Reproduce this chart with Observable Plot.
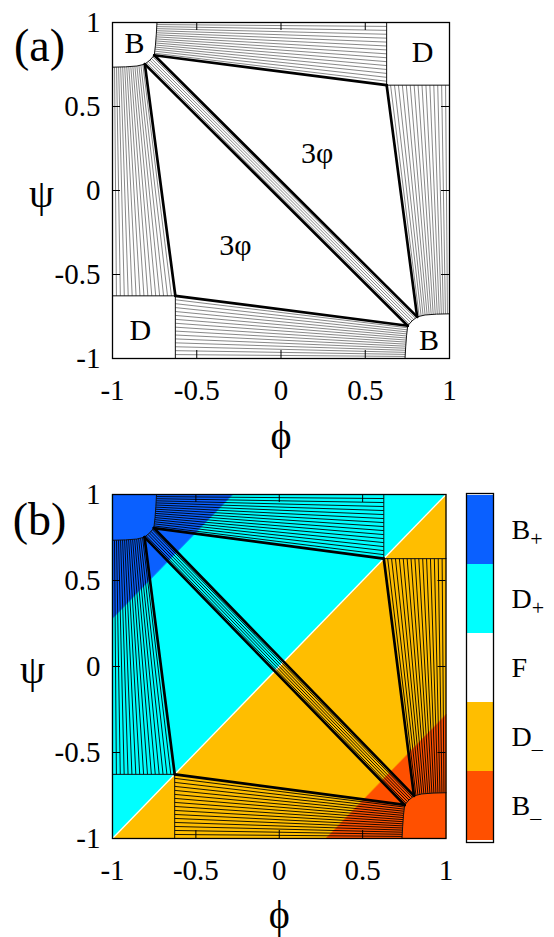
<!DOCTYPE html>
<html>
<head>
<meta charset="utf-8">
<script src="https://cdn.jsdelivr.net/npm/d3@7"></script>
<script src="https://cdn.jsdelivr.net/npm/@observablehq/plot@0.6"></script>
<style>
  body { margin: 0; background: #fff; }
  #page { position: relative; width: 554px; height: 937px; overflow: hidden; background: #fff; }
  #page svg { position: absolute; overflow: visible; }
</style>
</head>
<body>
<div id="page"></div>
<script>
// ---- axis ticks ----
const tickValues = [-1, -0.5, 0, 0.5, 1];
const innerTicks = [-0.5, 0, 0.5];

// ---- B-phase boundary near the (-1, 1) corner, from the top edge round to the left edge ----
const bBoundaryPhi = [-0.736, -0.740, -0.745, -0.752, -0.778, -0.808, -0.855, -0.922, -1.000];
const bBoundaryPsi = [ 1.000,  0.930,  0.865,  0.805,  0.776,  0.752,  0.741,  0.736,  0.734];
// positions on that boundary of the two three-phase vertices
const upperVertexIndex = 3;   // corner of the upper 3φ triangle
const lowerVertexIndex = 5;   // corner of the lower 3φ triangle

// ---- D-phase corner square [dEdge, 1] x [dEdge, 1] (and its mirror image) ----
const dEdge = 0.627;

// ---- tie-line intervals in the two-phase regions ----
const tieCountBD = 16;   // B + D coexistence
const tieCountBB = 6;    // B + B coexistence band

// ---- region labels ----
const cornerText = ["B", "D", "D", "B"];
const cornerPhi  = [-0.87, 0.84, -0.835, 0.878];
const cornerPsi  = [0.873, 0.823, -0.833, -0.893];
const threePhaseText = ["3φ", "3φ"];
const threePhasePhi  = [0.215, -0.27];
const threePhasePsi  = [0.218, -0.327];

// ---- phases of the colour map ----
const phaseNames  = ["B+", "D+", "F", "D-", "B-"];
const phaseLetter = ["B", "D", "F", "D", "B"];
const phaseSign   = ["+", "+", "", "–", "–"];
const phaseColors = ["#0a60ff", "#00ffff", "#ffffff", "#ffbe00", "#ff5000"];

// ---- coloured domains of panel (b): polygon corners (phi, psi) ----
const dPlusPhi  = [-1, 1, -1];       const dPlusPsi  = [-1, 1, 1];
const dMinusPhi = [-1, 1, 1];        const dMinusPsi = [-1, -1, 1];
const bPlusPhi  = [-1, -1, -0.28];   const bPlusPsi  = [0.28, 1, 1];
const bMinusPhi = [0.28, 1, 1];      const bMinusPsi = [-1, -1, -0.28];

// ---------------------------------------------------------------------------
const zip = (a, b) => a.map((v, i) => [v, b[i]]);
const flip = ([a, b]) => [-a, -b];

// point at fraction t of the arc length of a polyline
function pointAlong(poly, t) {
  const lens = [];
  let total = 0;
  for (let i = 1; i < poly.length; i++) {
    const l = Math.hypot(poly[i][0] - poly[i - 1][0], poly[i][1] - poly[i - 1][1]);
    lens.push(l); total += l;
  }
  let target = t * total;
  for (let i = 0; i < lens.length; i++) {
    if (target <= lens[i] || i === lens.length - 1) {
      const f = lens[i] ? Math.min(1, target / lens[i]) : 0;
      return [poly[i][0] + f * (poly[i + 1][0] - poly[i][0]),
              poly[i][1] + f * (poly[i + 1][1] - poly[i][1])];
    }
    target -= lens[i];
  }
}

const boundary = zip(bBoundaryPhi, bBoundaryPsi);
const P1 = boundary[upperVertexIndex];
const P2 = boundary[lowerVertexIndex];
const topArc  = boundary.slice(0, upperVertexIndex + 1);
const midArc  = boundary.slice(upperVertexIndex, lowerVertexIndex + 1);
const leftArc = boundary.slice(lowerVertexIndex);
const D  = [dEdge, dEdge];
const Dm = [-dEdge, -dEdge];

// tie lines; the diagram is symmetric under (phi, psi) -> (-phi, -psi)
const ties = [];
for (let i = 1; i < tieCountBD; i++) {
  const t = i / tieCountBD;
  const a = [pointAlong(topArc, t), [dEdge, 1 - t * (1 - dEdge)]];
  const b = [pointAlong(leftArc, t), [-dEdge - t * (1 - dEdge), -dEdge]];
  ties.push(a, b, [flip(a[0]), flip(a[1])], [flip(b[0]), flip(b[1])]);
}
for (let i = 1; i < tieCountBB; i++) {
  const t = i / tieCountBB;
  ties.push([pointAlong(midArc, t), flip(pointAlong(midArc, 1 - t))]);
}

// edges of the two three-phase triangles
const triangleEdges = [
  [P1, D], [D, flip(P2)], [flip(P2), P1],
  [P2, Dm], [Dm, flip(P1)], [flip(P1), P2]
];

// single-phase boundaries
const phaseLines = [];
boundary.forEach(p => phaseLines.push({p, part: "B1"}));
boundary.forEach(p => phaseLines.push({p: flip(p), part: "B2"}));
[[dEdge, 1], D, [1, dEdge]].forEach(p => {
  phaseLines.push({p, part: "D1"});
  phaseLines.push({p: flip(p), part: "D2"});
});

const domains = [
  {poly: zip(dPlusPhi, dPlusPsi), color: phaseColors[1]},
  {poly: zip(dMinusPhi, dMinusPsi), color: phaseColors[3]},
  {poly: zip(bPlusPhi, bPlusPsi), color: phaseColors[0]},
  {poly: zip(bMinusPhi, bMinusPsi), color: phaseColors[4]}
];

const serif = '"Liberation Serif", "Times New Roman", serif';
const seg = {x1: d => d[0][0], y1: d => d[0][1], x2: d => d[1][0], y2: d => d[1][1]};

function makePanel({colored, height, marginBottom, marginRight, tag, psiDx, phiDy, tagDx, tagDy}) {
  const marginTop = 22, marginLeft = 112;
  const innerH = height - marginTop - marginBottom;
  const innerW = 554 - marginLeft - marginRight;
  const marks = [];
  if (colored) {
    domains.forEach(dm => marks.push(Plot.line(dm.poly, {
      x: d => d[0], y: d => d[1], fill: dm.color, stroke: dm.color, strokeWidth: 0.5, curve: "linear-closed"
    })));
    marks.push(Plot.link([[[-1, -1], [1, 1]]], {...seg, stroke: "#fff", strokeWidth: 1.3}));
  }
  marks.push(
    Plot.link(ties, {...seg, stroke: colored ? "#000" : "#555", strokeWidth: colored ? 0.9 : 0.7}),
    Plot.line(phaseLines, {x: d => d.p[0], y: d => d.p[1], z: "part", stroke: "#111", strokeWidth: 1}),
    Plot.link(triangleEdges, {...seg, stroke: "#000", strokeWidth: 2.7, strokeLinecap: "round"}),
    Plot.frame({stroke: "#000", strokeWidth: 1.3}),
    Plot.tickX(innerTicks, {x: d => d, insetBottom: innerH - 8, stroke: "#000"}),
    Plot.tickX(innerTicks, {x: d => d, insetTop: innerH - 8, stroke: "#000"}),
    Plot.tickY(innerTicks, {y: d => d, insetRight: innerW - 8, stroke: "#000"}),
    Plot.tickY(innerTicks, {y: d => d, insetLeft: innerW - 8, stroke: "#000"}),
    Plot.axisX(tickValues, {tickSize: 0, tickPadding: 21, tickFormat: d => String(d), fontSize: 29, fontFamily: serif}),
    Plot.axisY(tickValues, {tickSize: 0, tickPadding: 12, tickFormat: d => String(d), fontSize: 29, fontFamily: serif}),
    Plot.text(["ψ"], {frameAnchor: "left", textAnchor: "middle", lineAnchor: "middle",
      dx: psiDx, dy: 4, fontSize: 40, fontFamily: serif}),
    Plot.text(["ϕ"], {frameAnchor: "bottom", textAnchor: "middle", lineAnchor: "middle",
      dy: phiDy, fontSize: 40, fontFamily: serif}),
    Plot.text([tag], {frameAnchor: "top-left", textAnchor: "middle", lineAnchor: "middle",
      dx: tagDx, dy: tagDy, fontSize: 46, fontFamily: serif})
  );
  if (!colored) {
    marks.push(
      Plot.text(cornerText, {x: (d, i) => cornerPhi[i], y: (d, i) => cornerPsi[i], text: d => d,
        fontSize: 30, fontFamily: serif}),
      Plot.text(threePhaseText, {x: (d, i) => threePhasePhi[i], y: (d, i) => threePhasePsi[i], text: d => d,
        fontSize: 30, fontFamily: serif})
    );
  }
  return Plot.plot({
    width: 554, height, marginTop, marginLeft, marginRight, marginBottom,
    x: {domain: [-1, 1], label: null},
    y: {domain: [-1, 1], label: null},
    style: {fontFamily: serif, fontSize: "28px", background: "transparent", color: "#000"},
    marks
  });
}

const page = document.getElementById("page");

const panelA = makePanel({colored: false, height: 455, marginBottom: 97, marginRight: 105,
  tag: "(a)", psiDx: -71, phiDy: 78, tagDx: -73, tagDy: 24});
panelA.style.left = "0px"; panelA.style.top = "0px";
page.appendChild(panelA);

const panelB = makePanel({colored: true, height: 465, marginBottom: 99, marginRight: 108.5,
  tag: "(b)", psiDx: -80, phiDy: 77, tagDx: -73, tagDy: 26});
panelB.style.left = "0px"; panelB.style.top = "472px";
page.appendChild(panelB);

// colour key for the phases
const key = Plot.plot({
  width: 99, height: 380, marginTop: 21, marginBottom: 10, marginLeft: 11, marginRight: 61,
  y: {type: "band", domain: phaseNames, padding: 0, axis: null},
  style: {fontFamily: serif, fontSize: "28px", background: "transparent", color: "#000"},
  marks: [
    Plot.cell(phaseNames, {y: d => d, fill: (d, i) => phaseColors[i]}),
    Plot.frame({stroke: "#000", strokeWidth: 1.3}),
    Plot.text(phaseNames, {y: d => d, text: (d, i) => phaseLetter[i], frameAnchor: "right",
      dx: 18, textAnchor: "start", lineAnchor: "middle", fontSize: 28, fontFamily: serif})
  ]
});
key.style.left = "455px"; key.style.top = "472px";
page.appendChild(key);

// lowered sign after each phase letter
d3.select(key).selectAll("text").each(function (_, i) {
  const s = phaseSign[i];
  if (!s) return;
  d3.select(this).append("tspan")
    .attr("font-size", 22)
    .attr("dy", s === "+" ? "0.32em" : "0.45em")
    .text(s);
});
</script>
</body>
</html>
